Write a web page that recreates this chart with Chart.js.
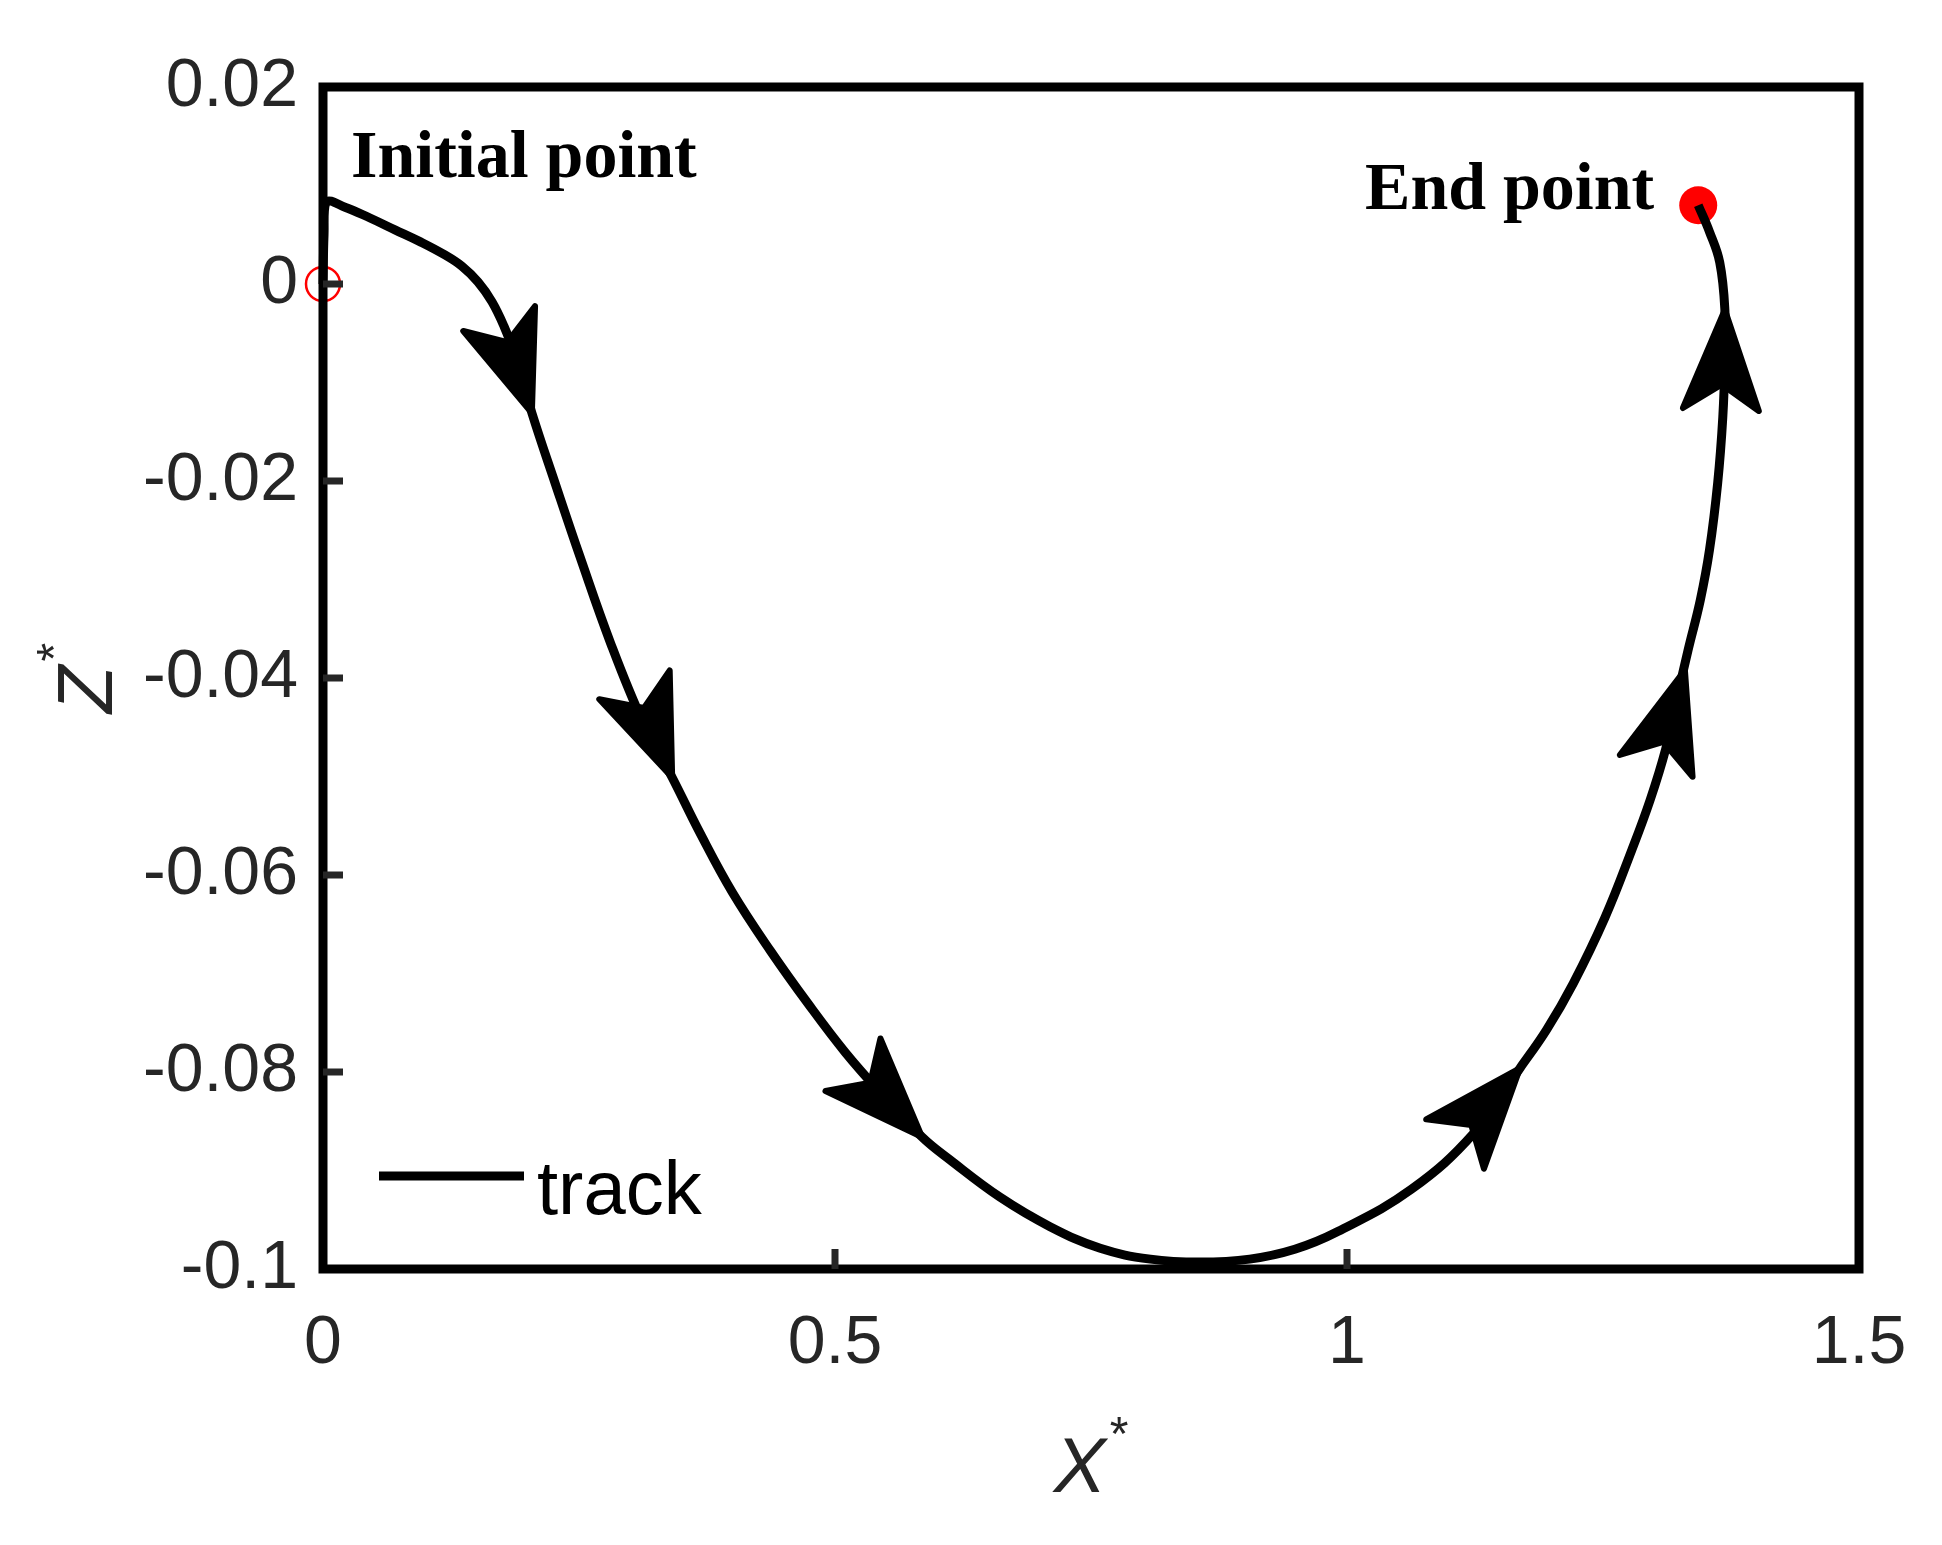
<!DOCTYPE html>
<html>
<head>
<meta charset="utf-8">
<script src="https://cdn.jsdelivr.net/npm/chart.js@4.4.0/dist/chart.umd.min.js"></script>
<style>
  body { margin: 0; background: #fff; }
  canvas { display: block; }
</style>
</head>
<body>
<canvas id="chart" width="1942" height="1545"></canvas>
<script>
// track
const trackX = [0.000, 0.001, 0.003, 0.0215, 0.0459, 0.0703, 0.0947, 0.1182, 0.1357, 0.1514, 0.1650, 0.1768,
  0.1875, 0.1963, 0.204, 0.2266, 0.251, 0.281, 0.3125, 0.341, 0.368, 0.400, 0.437, 0.474, 0.510, 0.547, 0.585,
  0.612, 0.661, 0.710, 0.759, 0.808, 0.856, 0.905, 0.949, 0.991, 1.063, 1.124, 1.169, 1.195, 1.221, 1.252,
  1.278, 1.296, 1.311, 1.322, 1.333, 1.345, 1.354, 1.362, 1.367, 1.369, 1.369, 1.364, 1.354, 1.343];
const trackY = [0.0000, 0.0050, 0.0083, 0.0078, 0.0067, 0.0055, 0.0043, 0.0030, 0.0018, 0.0002, -0.0018, -0.0043,
  -0.0072, -0.0101, -0.0131, -0.0202, -0.0277, -0.0365, -0.0445, -0.0501, -0.0557, -0.0618, -0.0677, -0.0731,
  -0.0780, -0.0824, -0.0866, -0.0889, -0.0927, -0.0957, -0.0979, -0.0990, -0.0993, -0.0990, -0.0980, -0.0962,
  -0.0919, -0.0862, -0.0796, -0.0757, -0.0710, -0.0643, -0.0575, -0.0524, -0.0473, -0.0422, -0.0372, -0.0321,
  -0.0270, -0.0202, -0.0135, -0.0077, -0.0026, 0.0022, 0.0053, 0.0080];

const startX = [0];
const startY = [0];
const endX = [1.343];
const endY = [0.0080];

// arrow heads: tip point and a point behind it giving the direction
const arrowTipX = [0.204, 0.341, 0.585, 1.169, 1.330, 1.369];
const arrowTipY = [-0.0131, -0.0501, -0.0866, -0.0796, -0.0392, -0.0026];
const arrowFromX = [0.171, 0.305, 0.517, 1.104, 1.302, 1.365];
const arrowFromY = [-0.0032, -0.0409, -0.0792, -0.0875, -0.0489, -0.0130];

const xTicks = [0, 0.5, 1, 1.5];
const xTickLabels = ['0', '0.5', '1', '1.5'];
const yTicks = [0.02, 0, -0.02, -0.04, -0.06, -0.08, -0.1];
const yTickLabels = ['0.02', '0', '-0.02', '-0.04', '-0.06', '-0.08', '-0.1'];

const noteText = ['Initial point', 'End point'];
const noteX = [0.0273, 1.0176];
const noteY = [0.0109, 0.0076];

const legendLabel = 'track';
const xTitle = 'X';
const yTitle = 'Z';

const tickColor = '#262626';
const tickFont = '"Liberation Sans", Arial, sans-serif';

function labelFor(list, labels, v) {
  const i = list.findIndex(t => Math.abs(t - v) < 1e-9);
  return i >= 0 ? labels[i] : '';
}

function starTitle(ctx, letter, x, y, rot) {
  ctx.save();
  ctx.translate(x, y);
  if (rot) ctx.rotate(-Math.PI / 2);
  ctx.fillStyle = tickColor;
  ctx.textBaseline = 'alphabetic';
  ctx.textAlign = 'left';
  ctx.font = 'italic 78px ' + tickFont;
  const w1 = ctx.measureText(letter).width;
  ctx.font = '48px ' + tickFont;
  const w2 = ctx.measureText('*').width;
  const x0 = -(w1 + w2 + 4) / 2;
  ctx.font = 'italic 78px ' + tickFont;
  ctx.fillText(letter, x0, 0);
  ctx.font = '48px ' + tickFont;
  ctx.fillText('*', x0 + w1 + 4, -42);
  ctx.restore();
}

const decor = {
  id: 'decor',
  afterDatasetsDraw(chart) {
    const ctx = chart.ctx;
    const a = chart.chartArea;
    const xs = chart.scales.x, ys = chart.scales.y;

    // arrow heads
    ctx.save();
    ctx.fillStyle = '#000';
    ctx.strokeStyle = '#000';
    ctx.lineWidth = 6;
    ctx.lineJoin = 'round';
    const L = 100, W = 38, N = 0.75;
    for (let i = 0; i < arrowTipX.length; i++) {
      const tx = xs.getPixelForValue(arrowTipX[i]), ty = ys.getPixelForValue(arrowTipY[i]);
      const fx = xs.getPixelForValue(arrowFromX[i]), fy = ys.getPixelForValue(arrowFromY[i]);
      let dx = tx - fx, dy = ty - fy;
      const len = Math.hypot(dx, dy);
      dx /= len; dy /= len;
      const nx = -dy, ny = dx;
      ctx.beginPath();
      ctx.moveTo(tx, ty);
      ctx.lineTo(tx - L * dx + W * nx, ty - L * dy + W * ny);
      ctx.lineTo(tx - N * L * dx, ty - N * L * dy);
      ctx.lineTo(tx - L * dx - W * nx, ty - L * dy - W * ny);
      ctx.closePath();
      ctx.fill();
      ctx.stroke();
    }
    ctx.restore();

    // frame
    ctx.save();
    ctx.strokeStyle = '#000';
    ctx.lineWidth = 9;
    ctx.strokeRect(a.left, a.top, a.right - a.left, a.bottom - a.top);

    // inner ticks, left and bottom
    ctx.strokeStyle = tickColor;
    ctx.lineWidth = 7;
    ctx.beginPath();
    yTicks.forEach(v => {
      const p = ys.getPixelForValue(v);
      if (Math.abs(p - a.top) < 5 || Math.abs(p - a.bottom) < 5) return;
      ctx.moveTo(a.left, p);
      ctx.lineTo(a.left + 20, p);
    });
    xTicks.forEach(v => {
      const p = xs.getPixelForValue(v);
      if (Math.abs(p - a.left) < 5 || Math.abs(p - a.right) < 5) return;
      ctx.moveTo(p, a.bottom);
      ctx.lineTo(p, a.bottom - 20);
    });
    ctx.stroke();
    ctx.restore();

    // notes
    ctx.save();
    ctx.fillStyle = '#000';
    ctx.font = 'bold 68px "Liberation Serif", "Times New Roman", serif';
    ctx.textBaseline = 'alphabetic';
    ctx.textAlign = 'left';
    noteText.forEach((t, i) => {
      ctx.fillText(t, xs.getPixelForValue(noteX[i]), ys.getPixelForValue(noteY[i]));
    });

    // legend, inside lower left
    ctx.strokeStyle = '#000';
    ctx.lineWidth = 9;
    ctx.beginPath();
    ctx.moveTo(a.left + 56, a.bottom - 93);
    ctx.lineTo(a.left + 201, a.bottom - 93);
    ctx.stroke();
    ctx.font = '76px ' + tickFont;
    ctx.fillText(legendLabel, a.left + 214, a.bottom - 55);
    ctx.restore();

    // axis titles with superscript star
    starTitle(ctx, xTitle, (a.left + a.right) / 2, a.bottom + 223, false);
    starTitle(ctx, yTitle, a.left - 211, (a.top + a.bottom) / 2, true);
  }
};

const ctx = document.getElementById('chart').getContext('2d');

new Chart(ctx, {
  type: 'scatter',
  data: {
    datasets: [
      {
        label: legendLabel,
        data: trackX.map((x, i) => ({ x, y: trackY[i] })),
        showLine: true,
        borderColor: '#000',
        borderWidth: 9,
        borderJoinStyle: 'round',
        pointRadius: 0,
        tension: 0.4,
        clip: false
      },
      {
        label: 'start',
        data: startX.map((x, i) => ({ x, y: startY[i] })),
        pointRadius: 17,
        pointBorderWidth: 2.5,
        pointBorderColor: '#ff0000',
        pointBackgroundColor: 'rgba(0,0,0,0)',
        clip: false
      },
      {
        label: 'end',
        data: endX.map((x, i) => ({ x, y: endY[i] })),
        pointRadius: 19,
        pointBorderWidth: 0,
        pointBackgroundColor: '#ff0000',
        clip: false
      }
    ]
  },
  options: {
    responsive: false,
    devicePixelRatio: 1,
    animation: false,
    layout: { padding: { left: 0, top: 87, right: 83, bottom: 0 } },
    plugins: {
      legend: { display: false },
      tooltip: { enabled: false }
    },
    scales: {
      x: {
        type: 'linear',
        min: 0,
        max: 1.5,
        grid: { display: false, drawTicks: false },
        border: { display: false },
        afterBuildTicks: s => { s.ticks = xTicks.map(v => ({ value: v })); },
        afterFit: s => { s.height = 276; },
        ticks: {
          padding: 34,
          maxRotation: 0,
          color: tickColor,
          font: { family: tickFont, size: 68 },
          callback: v => labelFor(xTicks, xTickLabels, v)
        }
      },
      y: {
        type: 'linear',
        min: -0.1,
        max: 0.02,
        grid: { display: false, drawTicks: false },
        border: { display: false },
        afterBuildTicks: s => { s.ticks = yTicks.map(v => ({ value: v })); },
        afterFit: s => { s.width = 323; },
        ticks: {
          padding: 25,
          color: tickColor,
          font: { family: tickFont, size: 68 },
          callback: v => labelFor(yTicks, yTickLabels, v)
        }
      }
    }
  },
  plugins: [decor]
});
</script>
</body>
</html>
